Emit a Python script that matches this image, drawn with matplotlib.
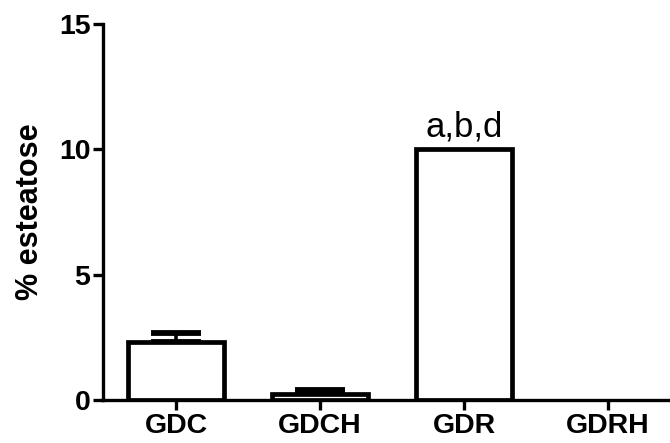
import numpy as np
import matplotlib
matplotlib.use("Agg")
import matplotlib.pyplot as plt

plt.rcParams['font.family'] = ['Liberation Sans', 'DejaVu Sans']

# data
groups = ['GDC', 'GDCH', 'GDR', 'GDRH']
means = [2.3, 0.25, 10.0, 0.0]
errors = [0.38, 0.15, 0.0, 0.0]
annotations = ['', '', 'a,b,d', '']

fig = plt.figure(figsize=(6.7, 4.43), dpi=100)
ax = fig.add_axes([0.1537, 0.097, 0.8463, 0.8488])

x = np.arange(len(groups))
means = np.array(means)
errors = np.array(errors)

# error bars (upper only), skip groups without error
has_err = errors > 0
ax.errorbar(x[has_err], means[has_err],
            yerr=[np.zeros(has_err.sum()), errors[has_err]], fmt='none',
            ecolor='black', elinewidth=2.6, capsize=18, capthick=4.2, zorder=1)

# zero-height bars are not drawn in the original
shown = means > 0
ax.bar(x[shown], means[shown], width=0.67, color='white', edgecolor='black',
       linewidth=3.4, zorder=2)

for xi, m, lab in zip(x, means, annotations):
    if lab:
        ax.text(xi, m + 0.5, lab, ha='center', va='baseline', fontsize=25)

ax.set_xlim(-0.507, 3.43)
ax.set_ylim(0, 15)
ax.set_yticks([0, 5, 10, 15])
ax.set_xticks(x)
ax.set_xticklabels(groups)

ax.spines['top'].set_visible(False)
ax.spines['right'].set_visible(False)
ax.spines['left'].set_linewidth(2.4)
ax.spines['bottom'].set_linewidth(2.4)
ax.tick_params(axis='both', width=2.4, length=7, labelsize=20.5, pad=2)
for lbl in ax.get_xticklabels() + ax.get_yticklabels():
    lbl.set_fontweight('bold')

ax.set_ylabel('% esteatose', fontsize=22, fontweight='bold', labelpad=10)

fig.savefig('out.png', dpi=100)
